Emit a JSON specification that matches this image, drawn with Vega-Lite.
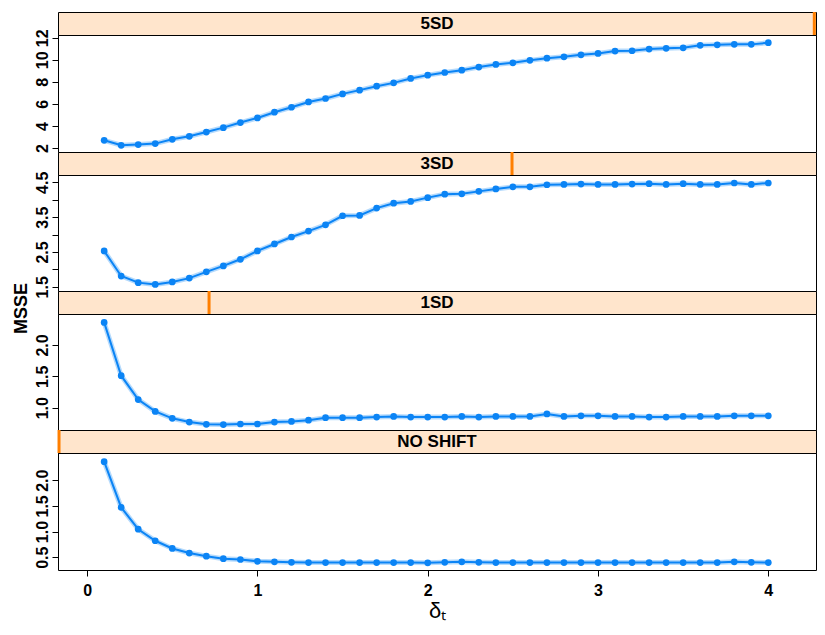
{
  "$schema": "https://vega.github.io/schema/vega-lite/v6.json",
  "padding": {"left": 11, "top": 10, "right": 5, "bottom": 5},
  "background": "white",
  "spacing": 0,
  "bounds": "flush",
  "config": {
    "font": "Liberation Sans",
    "view": {"stroke": "#000", "strokeWidth": 1},
    "concat": {"spacing": 0},
    "axis": {"labelFont": "Liberation Sans", "labelFontSize": 16, "labelFontWeight": "bold", "labelColor": "#000", "tickColor": "#000", "tickSize": 6, "domain": false, "grid": false, "titleColor": "#000"},
    "axisY": {"labelAngle": -90, "labelPadding": 2}
  },
  "datasets": {
    "strips": [
      {"shift": "5SD", "marker": 4.27},
      {"shift": "3SD", "marker": 2.495},
      {"shift": "1SD", "marker": 0.716},
      {"shift": "NO SHIFT", "marker": -0.165}
    ],
    "msse": [
      {"shift":"5SD","delta":0.1,"msse":2.70},{"shift":"5SD","delta":0.2,"msse":2.25},{"shift":"5SD","delta":0.3,"msse":2.31},{"shift":"5SD","delta":0.4,"msse":2.40},{"shift":"5SD","delta":0.5,"msse":2.79},{"shift":"5SD","delta":0.6,"msse":3.06},{"shift":"5SD","delta":0.7,"msse":3.45},{"shift":"5SD","delta":0.8,"msse":3.85},{"shift":"5SD","delta":0.9,"msse":4.31},{"shift":"5SD","delta":1.0,"msse":4.73},
      {"shift":"5SD","delta":1.1,"msse":5.25},{"shift":"5SD","delta":1.2,"msse":5.70},{"shift":"5SD","delta":1.3,"msse":6.18},{"shift":"5SD","delta":1.4,"msse":6.49},{"shift":"5SD","delta":1.5,"msse":6.91},{"shift":"5SD","delta":1.6,"msse":7.25},{"shift":"5SD","delta":1.7,"msse":7.61},{"shift":"5SD","delta":1.8,"msse":7.91},{"shift":"5SD","delta":1.9,"msse":8.31},{"shift":"5SD","delta":2.0,"msse":8.61},
      {"shift":"5SD","delta":2.1,"msse":8.85},{"shift":"5SD","delta":2.2,"msse":9.06},{"shift":"5SD","delta":2.3,"msse":9.34},{"shift":"5SD","delta":2.4,"msse":9.58},{"shift":"5SD","delta":2.5,"msse":9.73},{"shift":"5SD","delta":2.6,"msse":9.95},{"shift":"5SD","delta":2.7,"msse":10.15},{"shift":"5SD","delta":2.8,"msse":10.27},{"shift":"5SD","delta":2.9,"msse":10.45},{"shift":"5SD","delta":3.0,"msse":10.58},
      {"shift":"5SD","delta":3.1,"msse":10.79},{"shift":"5SD","delta":3.2,"msse":10.82},{"shift":"5SD","delta":3.3,"msse":10.97},{"shift":"5SD","delta":3.4,"msse":11.04},{"shift":"5SD","delta":3.5,"msse":11.09},{"shift":"5SD","delta":3.6,"msse":11.31},{"shift":"5SD","delta":3.7,"msse":11.36},{"shift":"5SD","delta":3.8,"msse":11.40},{"shift":"5SD","delta":3.9,"msse":11.40},{"shift":"5SD","delta":4.0,"msse":11.55},

      {"shift":"3SD","delta":0.1,"msse":2.53},{"shift":"3SD","delta":0.2,"msse":1.81},{"shift":"3SD","delta":0.3,"msse":1.62},{"shift":"3SD","delta":0.4,"msse":1.57},{"shift":"3SD","delta":0.5,"msse":1.64},{"shift":"3SD","delta":0.6,"msse":1.75},{"shift":"3SD","delta":0.7,"msse":1.93},{"shift":"3SD","delta":0.8,"msse":2.10},{"shift":"3SD","delta":0.9,"msse":2.29},{"shift":"3SD","delta":1.0,"msse":2.53},
      {"shift":"3SD","delta":1.1,"msse":2.73},{"shift":"3SD","delta":1.2,"msse":2.93},{"shift":"3SD","delta":1.3,"msse":3.10},{"shift":"3SD","delta":1.4,"msse":3.28},{"shift":"3SD","delta":1.5,"msse":3.54},{"shift":"3SD","delta":1.6,"msse":3.55},{"shift":"3SD","delta":1.7,"msse":3.76},{"shift":"3SD","delta":1.8,"msse":3.90},{"shift":"3SD","delta":1.9,"msse":3.95},{"shift":"3SD","delta":2.0,"msse":4.06},
      {"shift":"3SD","delta":2.1,"msse":4.16},{"shift":"3SD","delta":2.2,"msse":4.17},{"shift":"3SD","delta":2.3,"msse":4.24},{"shift":"3SD","delta":2.4,"msse":4.31},{"shift":"3SD","delta":2.5,"msse":4.37},{"shift":"3SD","delta":2.6,"msse":4.37},{"shift":"3SD","delta":2.7,"msse":4.43},{"shift":"3SD","delta":2.8,"msse":4.44},{"shift":"3SD","delta":2.9,"msse":4.45},{"shift":"3SD","delta":3.0,"msse":4.44},
      {"shift":"3SD","delta":3.1,"msse":4.44},{"shift":"3SD","delta":3.2,"msse":4.45},{"shift":"3SD","delta":3.3,"msse":4.46},{"shift":"3SD","delta":3.4,"msse":4.44},{"shift":"3SD","delta":3.5,"msse":4.46},{"shift":"3SD","delta":3.6,"msse":4.44},{"shift":"3SD","delta":3.7,"msse":4.44},{"shift":"3SD","delta":3.8,"msse":4.48},{"shift":"3SD","delta":3.9,"msse":4.44},{"shift":"3SD","delta":4.0,"msse":4.48},

      {"shift":"1SD","delta":0.1,"msse":2.36},{"shift":"1SD","delta":0.2,"msse":1.51},{"shift":"1SD","delta":0.3,"msse":1.13},{"shift":"1SD","delta":0.4,"msse":0.94},{"shift":"1SD","delta":0.5,"msse":0.83},{"shift":"1SD","delta":0.6,"msse":0.77},{"shift":"1SD","delta":0.7,"msse":0.735},{"shift":"1SD","delta":0.8,"msse":0.73},{"shift":"1SD","delta":0.9,"msse":0.74},{"shift":"1SD","delta":1.0,"msse":0.74},
      {"shift":"1SD","delta":1.1,"msse":0.77},{"shift":"1SD","delta":1.2,"msse":0.78},{"shift":"1SD","delta":1.3,"msse":0.80},{"shift":"1SD","delta":1.4,"msse":0.84},{"shift":"1SD","delta":1.5,"msse":0.84},{"shift":"1SD","delta":1.6,"msse":0.84},{"shift":"1SD","delta":1.7,"msse":0.85},{"shift":"1SD","delta":1.8,"msse":0.86},{"shift":"1SD","delta":1.9,"msse":0.85},{"shift":"1SD","delta":2.0,"msse":0.85},
      {"shift":"1SD","delta":2.1,"msse":0.85},{"shift":"1SD","delta":2.2,"msse":0.86},{"shift":"1SD","delta":2.3,"msse":0.85},{"shift":"1SD","delta":2.4,"msse":0.86},{"shift":"1SD","delta":2.5,"msse":0.86},{"shift":"1SD","delta":2.6,"msse":0.86},{"shift":"1SD","delta":2.7,"msse":0.90},{"shift":"1SD","delta":2.8,"msse":0.86},{"shift":"1SD","delta":2.9,"msse":0.87},{"shift":"1SD","delta":3.0,"msse":0.87},
      {"shift":"1SD","delta":3.1,"msse":0.86},{"shift":"1SD","delta":3.2,"msse":0.86},{"shift":"1SD","delta":3.3,"msse":0.85},{"shift":"1SD","delta":3.4,"msse":0.85},{"shift":"1SD","delta":3.5,"msse":0.86},{"shift":"1SD","delta":3.6,"msse":0.86},{"shift":"1SD","delta":3.7,"msse":0.86},{"shift":"1SD","delta":3.8,"msse":0.87},{"shift":"1SD","delta":3.9,"msse":0.87},{"shift":"1SD","delta":4.0,"msse":0.87},

      {"shift":"NO SHIFT","delta":0.1,"msse":2.36},{"shift":"NO SHIFT","delta":0.2,"msse":1.47},{"shift":"NO SHIFT","delta":0.3,"msse":1.045},{"shift":"NO SHIFT","delta":0.4,"msse":0.82},{"shift":"NO SHIFT","delta":0.5,"msse":0.67},{"shift":"NO SHIFT","delta":0.6,"msse":0.58},{"shift":"NO SHIFT","delta":0.7,"msse":0.52},{"shift":"NO SHIFT","delta":0.8,"msse":0.47},{"shift":"NO SHIFT","delta":0.9,"msse":0.455},{"shift":"NO SHIFT","delta":1.0,"msse":0.42},
      {"shift":"NO SHIFT","delta":1.1,"msse":0.41},{"shift":"NO SHIFT","delta":1.2,"msse":0.40},{"shift":"NO SHIFT","delta":1.3,"msse":0.395},{"shift":"NO SHIFT","delta":1.4,"msse":0.395},{"shift":"NO SHIFT","delta":1.5,"msse":0.395},{"shift":"NO SHIFT","delta":1.6,"msse":0.395},{"shift":"NO SHIFT","delta":1.7,"msse":0.395},{"shift":"NO SHIFT","delta":1.8,"msse":0.395},{"shift":"NO SHIFT","delta":1.9,"msse":0.395},{"shift":"NO SHIFT","delta":2.0,"msse":0.39},
      {"shift":"NO SHIFT","delta":2.1,"msse":0.40},{"shift":"NO SHIFT","delta":2.2,"msse":0.41},{"shift":"NO SHIFT","delta":2.3,"msse":0.40},{"shift":"NO SHIFT","delta":2.4,"msse":0.395},{"shift":"NO SHIFT","delta":2.5,"msse":0.395},{"shift":"NO SHIFT","delta":2.6,"msse":0.395},{"shift":"NO SHIFT","delta":2.7,"msse":0.395},{"shift":"NO SHIFT","delta":2.8,"msse":0.395},{"shift":"NO SHIFT","delta":2.9,"msse":0.395},{"shift":"NO SHIFT","delta":3.0,"msse":0.395},
      {"shift":"NO SHIFT","delta":3.1,"msse":0.395},{"shift":"NO SHIFT","delta":3.2,"msse":0.395},{"shift":"NO SHIFT","delta":3.3,"msse":0.395},{"shift":"NO SHIFT","delta":3.4,"msse":0.395},{"shift":"NO SHIFT","delta":3.5,"msse":0.395},{"shift":"NO SHIFT","delta":3.6,"msse":0.395},{"shift":"NO SHIFT","delta":3.7,"msse":0.395},{"shift":"NO SHIFT","delta":3.8,"msse":0.41},{"shift":"NO SHIFT","delta":3.9,"msse":0.40},{"shift":"NO SHIFT","delta":4.0,"msse":0.395}
    ]
  },
  "vconcat": [
    {
      "width": 758, "height": 23,
      "data": {"name": "strips"},
      "transform": [{"filter": "datum.shift == '5SD'"}],
      "view": {"fill": "#ffe5cc"},
      "layer": [
        {"mark": {"type": "rule", "color": "#ff7f00", "strokeWidth": 3},
         "encoding": {"x": {"field": "marker", "type": "quantitative", "scale": {"domain": [-0.171, 4.28], "nice": false, "zero": false}, "axis": null}}},
        {"mark": {"type": "text", "fontSize": 17, "fontWeight": "bold", "color": "#000"},
         "encoding": {"text": {"field": "shift"}}}
      ]
    },
    {
      "width": 758, "height": 117,
      "data": {"name": "msse"},
      "transform": [{"filter": "datum.shift == '5SD'"}],
      "encoding": {
        "x": {"field": "delta", "type": "quantitative", "scale": {"domain": [-0.171, 4.28], "nice": false, "zero": false}, "axis": null},
        "y": {"field": "msse", "type": "quantitative", "scale": {"domain": [1.64, 12.25], "nice": false, "zero": false},
              "axis": {"values": [2, 4, 6, 8, 10, 12], "format": "d", "title": null}}
      },
      "layer": [
        {"mark": {"type": "line", "color": "#0b84f5", "strokeWidth": 5, "opacity": 0.3}},
        {"mark": {"type": "line", "color": "#0b84f5", "strokeWidth": 2}},
        {"mark": {"type": "point", "filled": true, "color": "#0b84f5", "size": 45, "opacity": 1}}
      ]
    },
    {
      "width": 758, "height": 23,
      "data": {"name": "strips"},
      "transform": [{"filter": "datum.shift == '3SD'"}],
      "view": {"fill": "#ffe5cc"},
      "layer": [
        {"mark": {"type": "rule", "color": "#ff7f00", "strokeWidth": 3},
         "encoding": {"x": {"field": "marker", "type": "quantitative", "scale": {"domain": [-0.171, 4.28], "nice": false, "zero": false}, "axis": null}}},
        {"mark": {"type": "text", "fontSize": 17, "fontWeight": "bold", "color": "#000"},
         "encoding": {"text": {"field": "shift"}}}
      ]
    },
    {
      "width": 758, "height": 116,
      "data": {"name": "msse"},
      "transform": [{"filter": "datum.shift == '3SD'"}],
      "encoding": {
        "x": {"field": "delta", "type": "quantitative", "scale": {"domain": [-0.171, 4.28], "nice": false, "zero": false}, "axis": null},
        "y": {"field": "msse", "type": "quantitative", "scale": {"domain": [1.38, 4.71], "nice": false, "zero": false},
              "axis": {"values": [1.5, 2, 2.5, 3, 3.5, 4, 4.5], "format": ".1f", "labelOverlap": false, "labelExpr": "(datum.value == 1.5 || datum.value == 2.5 || datum.value == 3.5 || datum.value == 4.5) ? datum.label : ''", "title": null}}
      },
      "layer": [
        {"mark": {"type": "line", "color": "#0b84f5", "strokeWidth": 5, "opacity": 0.3}},
        {"mark": {"type": "line", "color": "#0b84f5", "strokeWidth": 2}},
        {"mark": {"type": "point", "filled": true, "color": "#0b84f5", "size": 45, "opacity": 1}}
      ]
    },
    {
      "width": 758, "height": 23,
      "data": {"name": "strips"},
      "transform": [{"filter": "datum.shift == '1SD'"}],
      "view": {"fill": "#ffe5cc"},
      "layer": [
        {"mark": {"type": "rule", "color": "#ff7f00", "strokeWidth": 3},
         "encoding": {"x": {"field": "marker", "type": "quantitative", "scale": {"domain": [-0.171, 4.28], "nice": false, "zero": false}, "axis": null}}},
        {"mark": {"type": "text", "fontSize": 17, "fontWeight": "bold", "color": "#000"},
         "encoding": {"text": {"field": "shift"}}}
      ]
    },
    {
      "width": 758, "height": 116,
      "data": {"name": "msse"},
      "transform": [{"filter": "datum.shift == '1SD'"}],
      "encoding": {
        "x": {"field": "delta", "type": "quantitative", "scale": {"domain": [-0.171, 4.28], "nice": false, "zero": false}, "axis": null},
        "y": {"field": "msse", "type": "quantitative", "scale": {"domain": [0.644, 2.494], "nice": false, "zero": false},
              "axis": {"values": [1.0, 1.5, 2.0], "format": ".1f", "title": "MSSE", "titleFontSize": 18, "titleFontWeight": "bold", "titleAngle": -90, "titleAlign": "center", "titleBaseline": "middle", "titleX": -37, "titleY": -6}}
      },
      "layer": [
        {"mark": {"type": "line", "color": "#0b84f5", "strokeWidth": 5, "opacity": 0.3}},
        {"mark": {"type": "line", "color": "#0b84f5", "strokeWidth": 2}},
        {"mark": {"type": "point", "filled": true, "color": "#0b84f5", "size": 45, "opacity": 1}}
      ]
    },
    {
      "width": 758, "height": 23,
      "data": {"name": "strips"},
      "transform": [{"filter": "datum.shift == 'NO SHIFT'"}],
      "view": {"fill": "#ffe5cc"},
      "layer": [
        {"mark": {"type": "rule", "color": "#ff7f00", "strokeWidth": 3},
         "encoding": {"x": {"field": "marker", "type": "quantitative", "scale": {"domain": [-0.171, 4.28], "nice": false, "zero": false}, "axis": null}}},
        {"mark": {"type": "text", "fontSize": 17, "fontWeight": "bold", "color": "#000"},
         "encoding": {"text": {"field": "shift"}}}
      ]
    },
    {
      "width": 758, "height": 117,
      "data": {"name": "msse"},
      "transform": [{"filter": "datum.shift == 'NO SHIFT'"}],
      "encoding": {
        "x": {"field": "delta", "type": "quantitative", "scale": {"domain": [-0.171, 4.28], "nice": false, "zero": false},
              "axis": {"values": [0, 1, 2, 3, 4], "format": "d", "labelPadding": 6, "title": "δₜ", "titleFontSize": 22, "titleFontWeight": "normal", "titlePadding": 2}},
        "y": {"field": "msse", "type": "quantitative", "scale": {"domain": [0.25, 2.53], "nice": false, "zero": false},
              "axis": {"values": [0.5, 1.0, 1.5, 2.0], "format": ".1f", "labelOverlap": false, "title": null}}
      },
      "layer": [
        {"mark": {"type": "line", "color": "#0b84f5", "strokeWidth": 5, "opacity": 0.3}},
        {"mark": {"type": "line", "color": "#0b84f5", "strokeWidth": 2}},
        {"mark": {"type": "point", "filled": true, "color": "#0b84f5", "size": 45, "opacity": 1}}
      ]
    }
  ]
}
